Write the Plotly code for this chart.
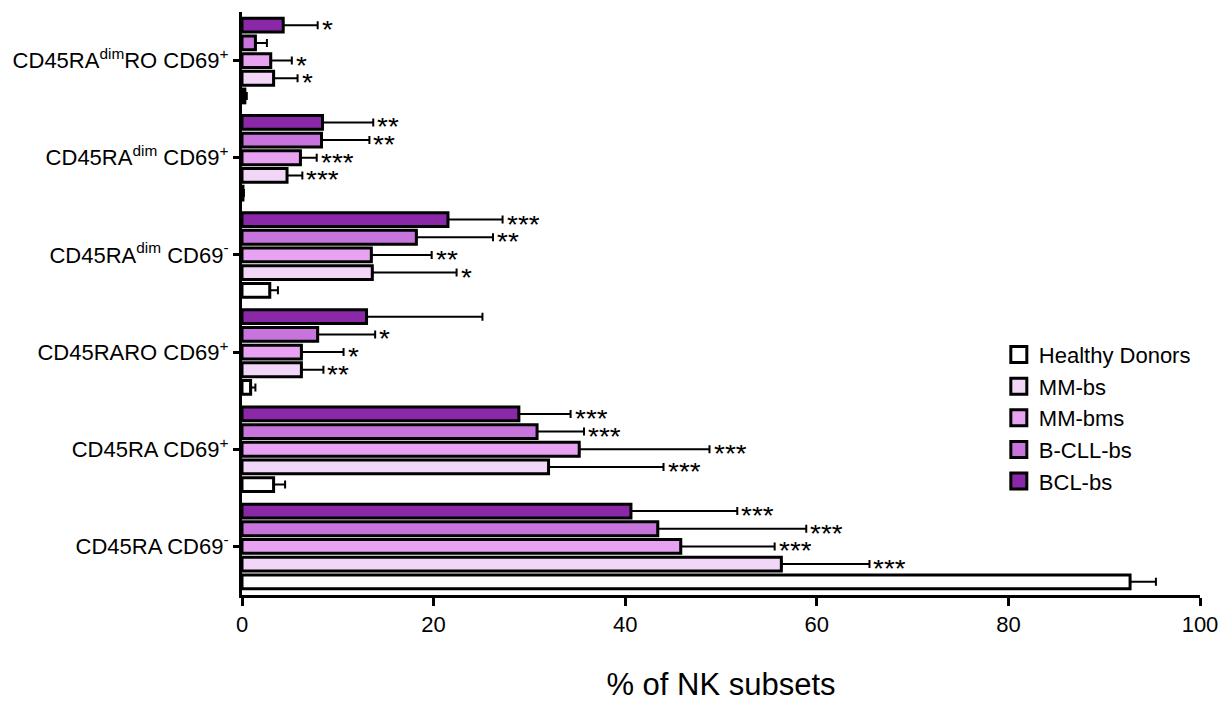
import plotly.graph_objects as go

categories = [
    "CD45RA CD69<sup>-</sup>",
    "CD45RA CD69<sup>+</sup>",
    "CD45RARO CD69<sup>+</sup>",
    "CD45RA<sup>dim</sup> CD69<sup>-</sup>",
    "CD45RA<sup>dim</sup> CD69<sup>+</sup>",
    "CD45RA<sup>dim</sup>RO CD69<sup>+</sup>",
]

groups = ["Healthy Donors", "MM-bs", "MM-bms", "B-CLL-bs", "BCL-bs"]
colors = ["#FFFFFF", "#F2D6F8", "#E8A2F2", "#C774DC", "#8A28A8"]

# mean values per group (order of categories above)
hd_mean = [92.7, 3.3, 0.9, 2.9, 0.1, 0.3]
mmbs_mean = [56.3, 32.0, 6.2, 13.6, 4.7, 3.3]
mmbms_mean = [45.8, 35.2, 6.2, 13.5, 6.1, 3.0]
bcll_mean = [43.4, 30.8, 7.9, 18.2, 8.3, 1.4]
bcl_mean = [40.6, 28.9, 13.0, 21.5, 8.4, 4.3]

# upper error (SD) values
hd_err = [2.7, 1.2, 0.5, 0.85, 0.1, 0.2]
mmbs_err = [9.2, 12.0, 2.3, 8.8, 1.6, 2.5]
mmbms_err = [9.8, 13.6, 4.4, 6.3, 1.7, 2.2]
bcll_err = [15.5, 4.9, 6.0, 8.0, 5.0, 1.2]
bcl_err = [11.1, 5.4, 12.1, 5.7, 5.3, 3.6]

# significance marks
hd_sig = ["", "", "", "", "", ""]
mmbs_sig = ["***", "***", "**", "*", "***", "*"]
mmbms_sig = ["***", "***", "*", "**", "***", "*"]
bcll_sig = ["***", "***", "*", "**", "**", ""]
bcl_sig = ["***", "***", "", "***", "**", "*"]

means = [hd_mean, mmbs_mean, mmbms_mean, bcll_mean, bcl_mean]
errs = [hd_err, mmbs_err, mmbms_err, bcll_err, bcl_err]
sigs = [hd_sig, mmbs_sig, mmbms_sig, bcll_sig, bcl_sig]

FONT = "Liberation Sans, Arial, sans-serif"
bargap = 0.09
bargroupgap = 0.22

fig = go.Figure()
for name, col, m, e in zip(groups, colors, means, errs):
    fig.add_trace(go.Bar(
        y=categories, x=m, orientation="h", name=name, showlegend=False,
        marker=dict(color=col, line=dict(color="black", width=3)),
        error_x=dict(type="data", array=e, arrayminus=[0] * len(e),
                     symmetric=False, color="black", thickness=2, width=4),
    ))

# legend entries with larger square swatches
for name, col in zip(groups, colors):
    fig.add_trace(go.Scatter(
        x=[None], y=[None], mode="markers", name=name,
        marker=dict(symbol="square", size=16, color=col,
                    line=dict(color="black", width=3)),
    ))

n = len(groups)
slot = (1 - bargap) / n
for k, (m, e, s) in enumerate(zip(means, errs, sigs)):
    off = -(1 - bargap) / 2 + slot * (k + 0.5)
    for i in range(len(categories)):
        if s[i]:
            fig.add_annotation(
                x=m[i] + e[i], y=i + off, text=s[i], showarrow=False,
                xanchor="left", yanchor="middle", xshift=2, yshift=-4,
                height=16, valign="middle",
                font=dict(family=FONT, size=28, color="black"),
            )

fig.update_layout(
    width=1223, height=702,
    paper_bgcolor="white", plot_bgcolor="white",
    barmode="group", bargap=bargap, bargroupgap=bargroupgap,
    margin=dict(l=242, r=23, t=12, b=107),
    font=dict(family=FONT, size=22, color="black"),
    legend=dict(x=0.79, y=0.448, xanchor="left", yanchor="top",
                traceorder="normal", font=dict(size=22),
                bgcolor="rgba(0,0,0,0)", itemsizing="trace"),
    xaxis=dict(range=[0, 100], tickvals=[0, 20, 40, 60, 80, 100],
               automargin=False,
               showline=True, linecolor="black", linewidth=3,
               ticks="outside", ticklen=8, tickwidth=3, tickcolor="black",
               showgrid=False, zeroline=False,
               tickfont=dict(size=22),
               title=dict(text="% of NK subsets", font=dict(size=31), standoff=51)),
    yaxis=dict(automargin=False, showline=True, linecolor="black", linewidth=3,
               ticks="outside", ticklen=6, tickwidth=3, tickcolor="black",
               showgrid=False, tickfont=dict(size=22),
               range=[-0.5, len(categories) - 0.5]),
)

fig.write_html("out.html", post_script="document.body.style.margin='0';",
               config={"displayModeBar": False})
